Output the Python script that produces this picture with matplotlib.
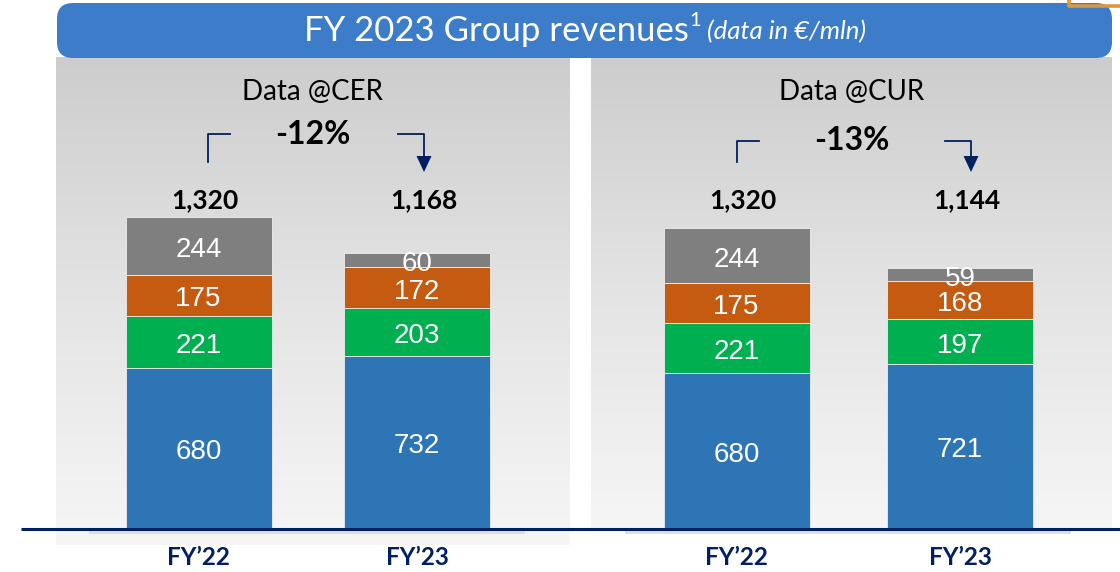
import numpy as np
import matplotlib
matplotlib.use("Agg")
import matplotlib.pyplot as plt
from matplotlib.patches import FancyBboxPatch, Rectangle, Polygon
from matplotlib.colors import LinearSegmentedColormap

# data (€/mln)
categories = ["FY\u201922", "FY\u201923"]

cer_blue = [680, 732]
cer_green = [221, 203]
cer_orange = [175, 172]
cer_gray = [244, 60]
cer_totals = ["1,320", "1,168"]
cer_change = "-12%"

cur_blue = [680, 721]
cur_green = [221, 197]
cur_orange = [175, 168]
cur_gray = [244, 59]
cur_totals = ["1,320", "1,144"]
cur_change = "-13%"

seg_colors = ["#2E75B6", "#00B050", "#C55A11", "#7F7F7F"]
navy = "#002060"

W, H = 1120, 572
fig = plt.figure(figsize=(W / 100, H / 100), dpi=100)

# background layer in pixel coords
bg = fig.add_axes([0, 0, 1, 1])
bg.set_xlim(0, W)
bg.set_ylim(H, 0)
bg.axis("off")

grad = LinearSegmentedColormap.from_list("g", ["#cdcdcd", "#e4e4e4", "#f6f6f6"])
ramp = np.linspace(0, 1, 256).reshape(-1, 1)
bg.imshow(ramp, cmap=grad, extent=(56, 570, 545, 57), aspect="auto", zorder=0)
bg.imshow(ramp, cmap=grad, extent=(591, 1112, 532, 57), aspect="auto", zorder=0)
bg.set_xlim(0, W)
bg.set_ylim(H, 0)

# title banner
bg.add_patch(FancyBboxPatch((57, 3), 1055, 55, boxstyle="round,pad=0,rounding_size=16",
                            fc="#3D7CC9", ec="none", zorder=2))
bg.plot([1069, 1069, W], [0, 6, 6], color="#E0953A", lw=2.6, zorder=3, solid_capstyle="butt")

# bottom axis line and shadow
bg.add_patch(Rectangle((89, 530), 436, 4, fc="#dedede", ec="none", zorder=1))
bg.add_patch(Rectangle((625, 530), 446, 4, fc="#dedede", ec="none", zorder=1))

# title pieces
ty = 31
r = fig.canvas.get_renderer()
t1 = bg.text(0, ty, "FY 2023 Group revenues", fontsize=25, color="white", family="Lato",
             va="center", ha="left", zorder=3)
t2 = bg.text(0, ty - 10, "1", fontsize=14.5, color="white", family="Lato", va="center", ha="left", zorder=3)
t3 = bg.text(0, ty + 1, "(data in \u20ac/mln)", fontsize=18.5, color="white", family="Lato",
             style="italic", va="center", ha="left", zorder=3)
w1 = t1.get_window_extent(r).width
w2 = t2.get_window_extent(r).width
w3 = t3.get_window_extent(r).width
gap = 7
x0 = 585 - (w1 + w2 + gap + w3) / 2
t1.set_x(x0)
t2.set_x(x0 + w1 + 1)
t3.set_x(x0 + w1 + w2 + gap)


def bracket(xl, xr, yt, ybot_left):
    bg.plot([xl, xl, xl + 22], [ybot_left, yt, yt], color=navy, lw=1.3, zorder=3)
    bg.plot([xr - 26, xr, xr], [yt, yt, 157], color=navy, lw=1.3, zorder=3)
    bg.add_patch(Polygon([[xr - 7.5, 156], [xr + 7.5, 156], [xr, 172]], fc=navy, ec="none", zorder=3))


bracket(208, 424, 134, 162)
bracket(737, 971, 141, 162)

bg.plot([21, W], [529, 529], color=navy, lw=2.2, zorder=4, solid_capstyle="butt")


def panel(px0, px1, c0, c1, ymax, segs, totals, title, change, change_y):
    ax = fig.add_axes([px0 / W, (H - 528) / H, (px1 - px0) / W, 471 / H])
    ax.set_facecolor("none")
    ax.axis("off")
    spacing = c1 - c0
    ax.set_xlim(-(c0 - px0) / spacing, 1 + (px1 - c1) / spacing)
    ax.set_ylim(0, ymax)
    x = np.arange(len(categories))
    bw = 146 / spacing
    bottom = np.zeros(len(categories))
    for vals, col in zip(segs, seg_colors):
        vals = np.array(vals)
        ax.bar(x, vals, bw, bottom=bottom, color=col, edgecolor="#eeeeee", linewidth=0.6)
        for xi, b, v in zip(x, bottom, vals):
            ax.annotate(str(v), (xi, b + v / 2), xytext=(0, -3), textcoords="offset points",
                        ha="center", va="center", color="white",
                        fontsize=20, family="Liberation Sans")
        bottom += vals
    ty = lambda py: (528 - py) / 471
    for xi, t in zip(x, totals):
        ax.text(xi + 0.03, ty(200), t, transform=ax.get_xaxis_transform(), ha="center", va="center",
                fontsize=19, fontweight="bold", family="Lato", color="black")
        ax.text(xi, -0.062, categories[xi], transform=ax.get_xaxis_transform(), ha="center", va="center",
                fontsize=17.5, fontweight="bold", family="Lato", color=navy)
    ax.text(0.5, ty(92), title, transform=ax.transAxes, ha="center", va="center",
            fontsize=20, family="Lato", color="black")
    ax.text(0.5, ty(change_y), change, transform=ax.transAxes, ha="center", va="center",
            fontsize=23, fontweight="bold", family="Lato", color="black")
    return ax


panel(56, 570, 198.5, 417, 2000, [cer_blue, cer_green, cer_orange, cer_gray], cer_totals,
      "Data @CER", cer_change, 134)
panel(591, 1112, 736.5, 960, 2072, [cur_blue, cur_green, cur_orange, cur_gray], cur_totals,
      "Data @CUR", cur_change, 141)

fig.savefig("out.png", dpi=100)
